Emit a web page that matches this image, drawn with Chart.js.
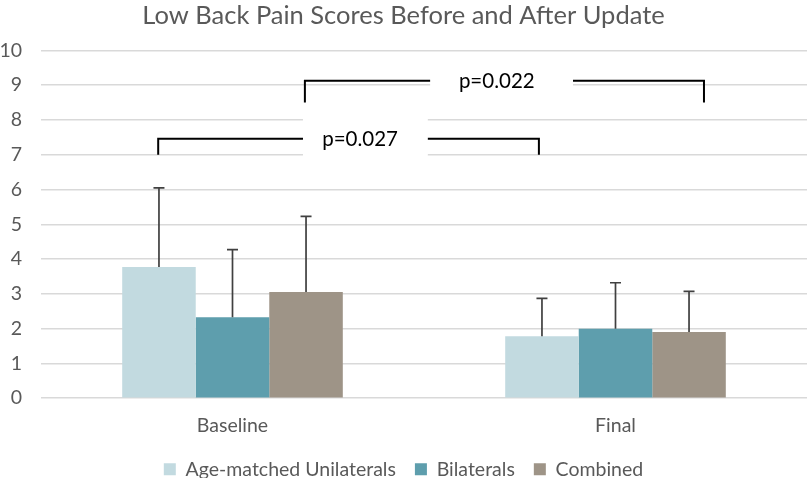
<!DOCTYPE html>
<html>
<head>
<meta charset="utf-8">
<script src="https://cdn.jsdelivr.net/npm/chart.js@4"></script>
<style>
  body { margin: 0; background: #fff; }
  #wrap { width: 810px; height: 478px; position: relative; }
</style>
</head>
<body>
<div id="wrap"><canvas id="grafico"></canvas></div>
<script>
// data
const categorias = ['Baseline', 'Final'];
const unilaterales = [3.77, 1.78];
const bilaterales = [2.33, 2.00];
const combinados = [3.05, 1.90];
// upper error bar (SD)
const sdUnilaterales = [2.28, 1.09];
const sdBilaterales = [1.94, 1.32];
const sdCombinados = [2.18, 1.17];
const etiquetasP = ['p=0.027', 'p=0.022'];

const GRIS_TEXTO = '#595959';
const FUENTE = 'Lato';

// brackets, positions in category / value units
const corchetes = [
  { label: etiquetasP[0], desde: -0.194, hasta: 0.80, yArriba: 7.46, yAbajo: 7.0,
    hueco: [0.184, 0.510], textoX: 0.333, caja: [8.45, 6.85] },
  { label: etiquetasP[1], desde: 0.189, hasta: 1.231, yArriba: 9.13, yAbajo: 8.5,
    hueco: [0.516, 0.889], textoX: 0.69, caja: [9.5, 8.6] }
];

const barrasError = {
  id: 'barrasError',
  afterDatasetsDraw(chart) {
    const ctx = chart.ctx;
    const y = chart.scales.y;
    ctx.save();
    ctx.strokeStyle = '#404040';
    ctx.lineWidth = 1.7;
    chart.data.datasets.forEach((ds, i) => {
      const meta = chart.getDatasetMeta(i);
      meta.data.forEach((bar, j) => {
        const tope = y.getPixelForValue(ds.data[j] + ds.sd[j]);
        ctx.beginPath();
        ctx.moveTo(bar.x, bar.y);
        ctx.lineTo(bar.x, tope);
        ctx.moveTo(bar.x - 5.5, tope);
        ctx.lineTo(bar.x + 5.5, tope);
        ctx.stroke();
      });
    });
    ctx.restore();
  }
};

const corchetesP = {
  id: 'corchetesP',
  afterDatasetsDraw(chart) {
    const ctx = chart.ctx;
    const x = chart.scales.x;
    const y = chart.scales.y;
    ctx.save();
    corchetes.forEach(c => {
      const x1 = x.getPixelForValue(c.desde);
      const x2 = x.getPixelForValue(c.hasta);
      const yA = y.getPixelForValue(c.yArriba);
      const yB = y.getPixelForValue(c.yAbajo);
      const g1 = x.getPixelForValue(c.hueco[0]);
      const g2 = x.getPixelForValue(c.hueco[1]);
      // white box hiding the grid behind the label
      const cTop = y.getPixelForValue(c.caja[0]);
      const cBot = y.getPixelForValue(c.caja[1]);
      ctx.fillStyle = '#fff';
      ctx.fillRect(g1, cTop, g2 - g1, cBot - cTop);

      ctx.strokeStyle = '#000';
      ctx.lineWidth = 2;
      ctx.beginPath();
      ctx.moveTo(x1, yB);
      ctx.lineTo(x1, yA);
      ctx.lineTo(g1, yA);
      ctx.moveTo(g2, yA);
      ctx.lineTo(x2, yA);
      ctx.lineTo(x2, yB);
      ctx.stroke();

      ctx.fillStyle = '#000';
      ctx.font = '20.5px ' + FUENTE;
      ctx.textAlign = 'center';
      ctx.textBaseline = 'middle';
      ctx.fillText(c.label, x.getPixelForValue(c.textoX), yA + 1);
    });
    ctx.restore();
  }
};

new Chart(document.getElementById('grafico').getContext('2d'), {
  type: 'bar',
  data: {
    labels: categorias,
    datasets: [
      { label: 'Age-matched Unilaterals', data: unilaterales, sd: sdUnilaterales, backgroundColor: '#C2DAE0' },
      { label: 'Bilaterals', data: bilaterales, sd: sdBilaterales, backgroundColor: '#5E9EAD' },
      { label: 'Combined', data: combinados, sd: sdCombinados, backgroundColor: '#9E9487' }
    ]
  },
  options: {
    responsive: true,
    maintainAspectRatio: false,
    animation: false,
    categoryPercentage: 0.576,
    barPercentage: 1,
    layout: { padding: { top: 0, right: 3, bottom: -11, left: 0 } },
    plugins: {
      title: {
        display: true,
        text: 'Low Back Pain Scores Before and After Update',
        color: GRIS_TEXTO,
        font: { family: FUENTE, size: 25.5, weight: 'normal' },
        padding: { top: 0, bottom: 19.8 }
      },
      legend: {
        position: 'bottom',
        labels: {
          color: GRIS_TEXTO,
          font: { family: FUENTE, size: 19.5 },
          boxWidth: 12,
          boxHeight: 12,
          padding: 19
        }
      },
      tooltip: { enabled: false }
    },
    scales: {
      x: {
        grid: { display: false, drawTicks: false },
        border: { display: false },
        ticks: { color: GRIS_TEXTO, font: { family: FUENTE, size: 19.5 }, padding: 15.6 },
        afterFit(scale) { scale.height = 42.3; }
      },
      y: {
        min: 0,
        max: 10,
        ticks: { stepSize: 1, color: GRIS_TEXTO, font: { family: FUENTE, size: 19.5 }, padding: 19 },
        grid: { color: '#D9D9D9', lineWidth: 1.5, drawTicks: false },
        border: { display: false },
        afterFit(scale) { scale.width = 41; }
      }
    }
  },
  plugins: [barrasError, corchetesP]
});
</script>
</body>
</html>
